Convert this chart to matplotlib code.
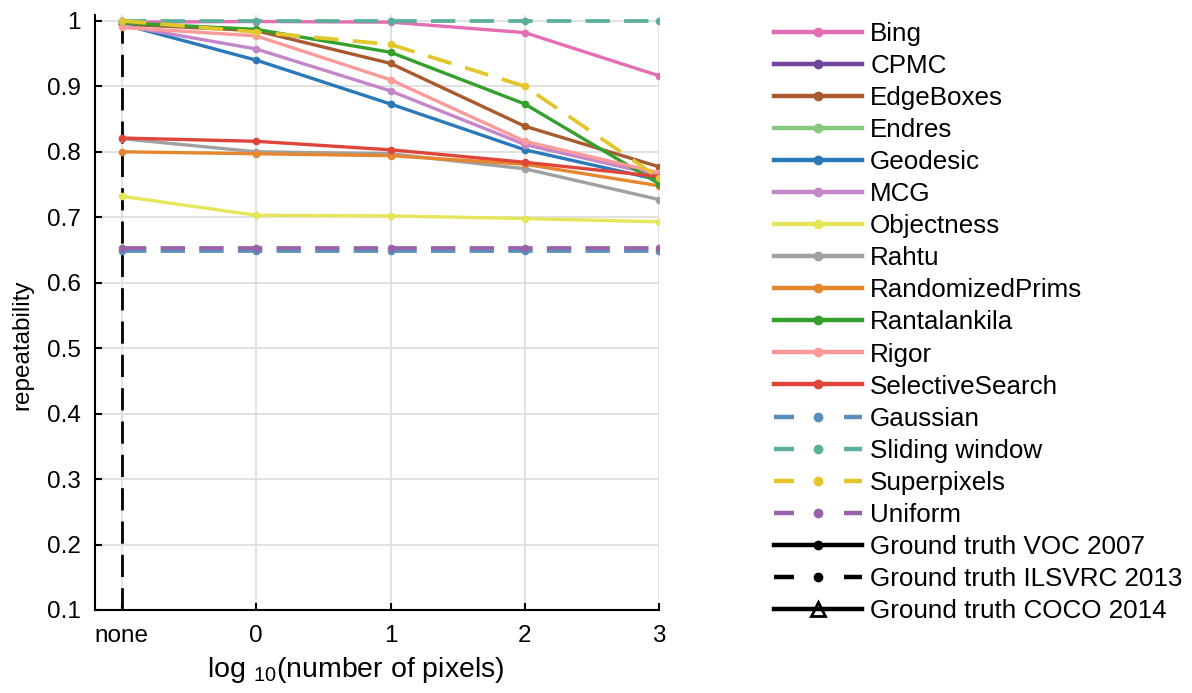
import numpy as np
import matplotlib
matplotlib.use("Agg")
import matplotlib.pyplot as plt

plt.rcParams['font.family'] = ['Liberation Sans', 'DejaVu Sans']
plt.rcParams['mathtext.default'] = 'regular'

# x positions: "none" plus log10 of the number of pixels
x_pos = [-1, 0, 1, 2, 3]
x_labels = ['none', '0', '1', '2', '3']

nan = np.nan
bing = [0.998, 0.999, 0.998, 0.982, 0.916]
cpmc = [nan, nan, nan, nan, nan]
edgeboxes = [0.995, 0.985, 0.935, 0.839, 0.777]
endres = [nan, nan, nan, nan, nan]
geodesic = [0.995, 0.940, 0.873, 0.803, 0.757]
mcg = [0.993, 0.957, 0.893, 0.811, 0.764]
objectness = [0.732, 0.703, 0.702, 0.698, 0.693]
rahtu = [0.820, 0.800, 0.797, 0.774, 0.727]
randomized_prims = [0.800, 0.797, 0.794, 0.781, 0.748]
rantalankila = [0.997, 0.987, 0.952, 0.873, 0.751]
rigor = [0.990, 0.977, 0.910, 0.816, 0.768]
selective_search = [0.821, 0.816, 0.803, 0.784, 0.762]
gaussian = [0.648, 0.648, 0.648, 0.648, 0.648]
sliding_window = [1.0, 1.0, 1.0, 1.0, 1.0]
superpixels = [1.0, 0.983, 0.964, 0.900, 0.760]
uniform = [0.653, 0.653, 0.653, 0.653, 0.653]

# ground truth: only the ILSVRC line at "none" spans the full range
gt_x = [-1, -1]
gt_voc = [nan, nan]
gt_ilsvrc = [1.0, 0.1]
gt_coco = [nan, nan]

methods = [
    ('Bing', bing, '#e46db3', '-'),
    ('CPMC', cpmc, '#6f45a0', '-'),
    ('EdgeBoxes', edgeboxes, '#a95a2e', '-'),
    ('Endres', endres, '#86c97c', '-'),
    ('Geodesic', geodesic, '#2a79b8', '-'),
    ('MCG', mcg, '#c486c9', '-'),
    ('Objectness', objectness, '#e6e65a', '-'),
    ('Rahtu', rahtu, '#a0a0a0', '-'),
    ('RandomizedPrims', randomized_prims, '#e6862e', '-'),
    ('Rantalankila', rantalankila, '#33a02c', '-'),
    ('Rigor', rigor, '#fb9a99', '-'),
    ('SelectiveSearch', selective_search, '#e0453a', '-'),
    ('Gaussian', gaussian, '#5a8dba', '--'),
    ('Sliding window', sliding_window, '#5bb09c', '--'),
    ('Superpixels', superpixels, '#e3c52c', '--'),
    ('Uniform', uniform, '#9a61a8', '--'),
]

fig = plt.figure(figsize=(11.92, 6.93), dpi=100)
# axes span from 0.1 up to slightly above 1
ax = fig.add_axes([0.0797, 0.1198, 0.4733, 0.8586])

handles = []
dashed = []
for name, vals, color, ls in methods:
    kw = dict(color=color, lw=2.4, marker='o', ms=4.5, label=name)
    if ls == '--':
        kw['dashes'] = (6.5, 3.8)
        kw['lw'] = 2.7
    h, = ax.plot(x_pos, vals, **kw)
    handles.append(h)
    dashed.append(ls == '--')

h_voc, = ax.plot(gt_x, gt_voc, color='black', lw=2.4, marker='o', ms=4.5,
                 label='Ground truth VOC 2007')
h_ils, = ax.plot(gt_x, gt_ilsvrc, color='black', lw=2.0, dashes=(8, 4),
                 marker='o', ms=4.5, markevery=[0],
                 label='Ground truth ILSVRC 2013', zorder=1.5)
h_coco, = ax.plot(gt_x, gt_coco, color='black', lw=2.4, marker='^', ms=10,
                  mfc='none', mew=2, label='Ground truth COCO 2014')
handles += [h_voc, h_ils, h_coco]
dashed += [False, True, False]

ax.set_xlim(-1.2, 3)
ax.set_ylim(0.1, 1.009)
ax.set_xticks(x_pos)
ax.set_xticklabels(x_labels)
ax.set_yticks(np.round(np.arange(0.1, 1.01, 0.1), 1))
ax.set_yticklabels(['0.1', '0.2', '0.3', '0.4', '0.5', '0.6', '0.7', '0.8', '0.9', '1'])
ax.grid(True, color='#dcdcdc', lw=1.2)
ax.set_axisbelow(True)
for s in ('top', 'right'):
    ax.spines[s].set_visible(False)
for s in ('left', 'bottom'):
    ax.spines[s].set_linewidth(1.5)
ax.tick_params(direction='in', length=5, width=1.5, labelsize=17.5)
ax.tick_params(axis='y', pad=10)
ax.tick_params(axis='x', pad=11)

ax.set_ylabel('repeatability', fontsize=17.5)
ax.yaxis.set_label_coords(-0.110, 0.445)
ax.set_xlabel('log $_{10}$(number of pixels)', fontsize=20.5)
ax.xaxis.set_label_coords(0.463, -0.075)

leg = fig.legend(handles=handles, loc='upper left', bbox_to_anchor=(0.6385, 0.987),
                 frameon=False, fontsize=18.7, handlelength=3.4, handletextpad=0.3,
                 labelspacing=0.31, borderpad=0)
for line, is_dashed in zip(leg.get_lines(), dashed):
    line.set_linewidth(3.2)
    if line.get_marker() == 'o':
        line.set_markersize(6)
    if is_dashed:
        line.set_dashes((4.5, 11.25))

fig.savefig('out.png', dpi=100)
